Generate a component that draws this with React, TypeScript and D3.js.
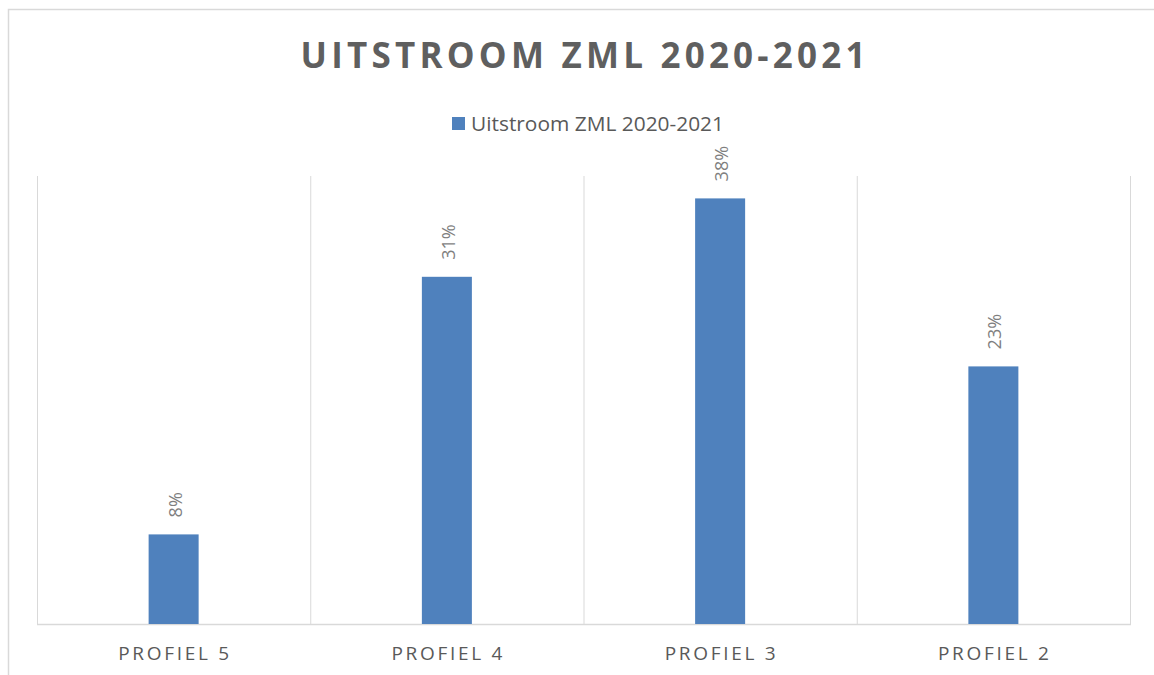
import React from "react";
import * as d3 from "d3";

const categories = ["PROFIEL 5", "PROFIEL 4", "PROFIEL 3", "PROFIEL 2"];
const values = [0.08, 0.31, 0.38, 0.23];
const seriesName = "Uitstroom ZML 2020-2021";
const title = "UITSTROOM ZML 2020-2021";

const width = 1154;
const height = 675;

const App = () => {
  const x = d3.scaleBand<string>().domain(categories).range([37, 1130]).padding(0);
  const y = d3.scaleLinear().domain([0, 0.4]).range([624, 176]);
  const barW = x.bandwidth() * 0.183;
  const fmt = d3.format(".0%");

  const gridXs = [...categories.map((c) => x(c)!), 1130];

  return (
    <svg
      width={width}
      height={height}
      style={{ position: "absolute", left: 0, top: 0, background: "#fff" }}
      fontFamily="'Open Sans', sans-serif"
    >
      {/* chart frame, runs past the page edge */}
      <rect x={8.5} y={9.5} width={1200} height={700} fill="#fff" stroke="#d9d9d9" strokeWidth={1.5} />

      <text
        x={583}
        y={68}
        textAnchor="middle"
        fontSize={35}
        fontWeight="bold"
        fill="#5f5f5f"
        textLength={565}
        lengthAdjust="spacing"
      >
        {title}
      </text>

      {/* legend */}
      <rect x={452} y={117} width={13} height={13} fill="#4f81bd" />
      <text x={471} y={131} fontSize={20} fill="#595959" textLength={253} lengthAdjust="spacingAndGlyphs">
        {seriesName}
      </text>

      {/* gridlines */}
      {gridXs.map((gx, i) => (
        <line key={i} x1={gx + 0.5} x2={gx + 0.5} y1={176} y2={624} stroke="#d9d9d9" strokeWidth={1} />
      ))}
      <line x1={37} x2={1131} y1={624.5} y2={624.5} stroke="#d9d9d9" strokeWidth={1.5} />

      {/* bars */}
      {categories.map((c, i) => {
        const cx = x(c)! + x.bandwidth() / 2;
        return (
          <g key={c}>
            <rect x={cx - barW / 2} y={y(values[i])} width={barW} height={y(0) - y(values[i])} fill="#4f81bd" />
            <text
              transform={`translate(${cx + 8},${y(values[i]) - 17}) rotate(-90)`}
              fontSize={18}
              fill="#7f7f7f"
            >
              {fmt(values[i])}
            </text>
            <text
              x={cx}
              y={660}
              textAnchor="middle"
              fontSize={19}
              fill="#595959"
              textLength={111}
              lengthAdjust="spacing"
            >
              {c}
            </text>
          </g>
        );
      })}
    </svg>
  );
};

export default App;
